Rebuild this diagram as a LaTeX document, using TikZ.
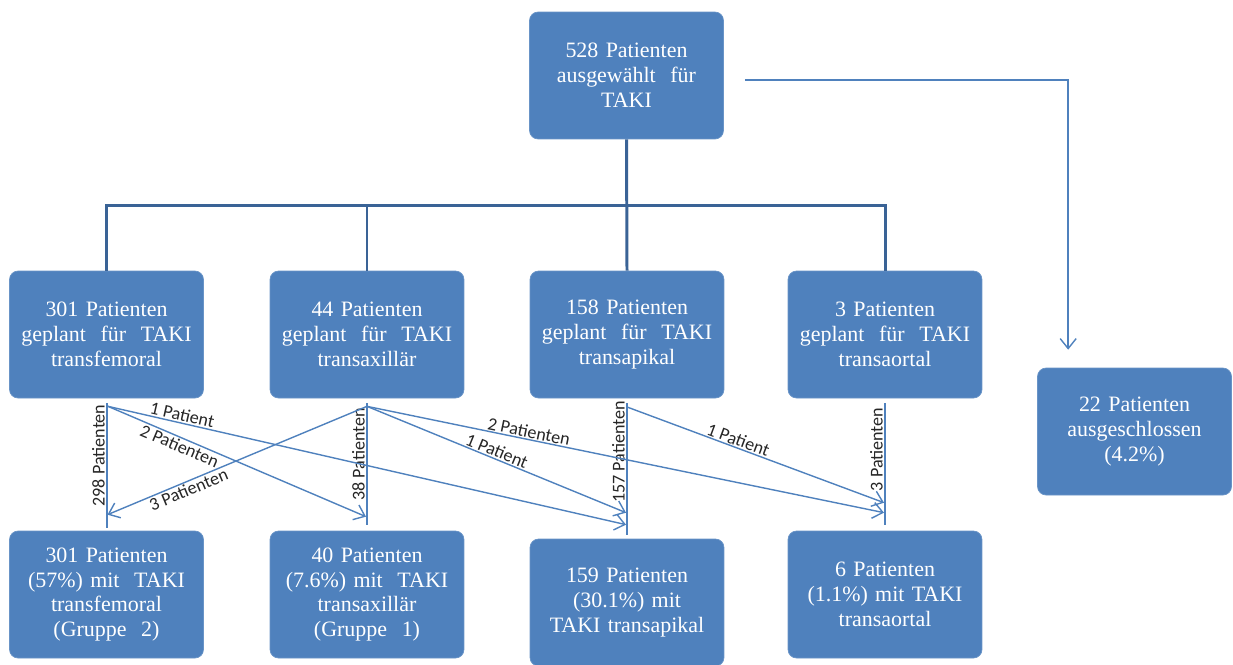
\documentclass[tikz,border=0pt]{standalone}
\usepackage{fontspec}
\setmainfont{Liberation Serif}
\newfontfamily\zahlfont{Carlito}
\usepackage{tikz}
\usetikzlibrary{
    positioning,
    arrows.meta,
    calc
}
\definecolor{kasten}{HTML}{4F81BD}
\definecolor{baum}{HTML}{3A6396}
\tikzset{
    >={Straight Barb[length=2mm,width=3.2mm]},
    patbox/.style={
        rectangle,
        rounded corners=0.17cm,
        fill=kasten,
        draw=kasten!85!white,
        text=white,
        minimum width=3.88cm,
        minimum height=2.54cm,
        text width=3.6cm,
        align=center,
        inner sep=2pt,
        font=\fontsize{12.5}{14.2}\selectfont
    },
    tree/.style={draw=baum, line width=1.7pt},
    stamm/.style={draw=kasten, line width=1.4pt},
    wechsel/.style={draw=kasten, line width=0.8pt, ->},
    zahl/.style={
        font=\zahlfont\fontsize{10.3}{11}\selectfont,
        text=black!85,
        inner sep=0.6pt
    }
}

\begin{document}
\begin{tikzpicture}[
    x=0.02cm,
    y=-0.02cm
]
    \useasboundingbox (0,0) rectangle (1233,664);

    % Kaesten
    \node[patbox] (taki) at (626.5,75.5) {528 Patienten\\ausgewählt~~für\\TAKI};

    \node[patbox] (tf)  at (106.5,334.5) {301 Patienten\\geplant~~für~~TAKI\\transfemoral};
    \node[patbox] (ta)  at (367,334.5)   {44 Patienten\\geplant~~für~~TAKI\\transaxillär};
    \node[patbox] (tp)  at (627,334.5)   {158 Patienten\\geplant~~für~~TAKI\\transapikal};
    \node[patbox] (tao) at (885,334.5)   {3 Patienten\\geplant~~für~~TAKI\\transaortal};

    \node[patbox] (aus) at (1134.5,431.5) {22 Patienten\\ausgeschlossen\\(4.2\%)};

    \node[patbox] (gtf)  at (106.5,594.5) {301 Patienten\\(57\%) mit~~TAKI\\transfemoral\\(Gruppe~~2)};
    \node[patbox] (gta)  at (367,594.5)   {40 Patienten\\(7.6\%) mit~~TAKI\\transaxillär\\(Gruppe~~1)};
    \node[patbox] (gtp)  at (627,602.5)   {159 Patienten\\(30.1\%) mit\\TAKI transapikal};
    \node[patbox] (gtao) at (885,594.5)   {6 Patienten\\(1.1\%) mit TAKI\\transaortal};

    % Aufteilung
    \coordinate (ast) at (627,205);
    \draw[tree] (taki.south) -- (tp.north);
    \draw[tree] (tf.north) -- (tf.north |- ast) -- (tao.north |- ast) -- (tao.north);
    \draw[tree] (ta.north) -- (ta.north |- ast);

    \draw[draw=kasten, line width=0.8pt, ->]
        ($(taki.east)+(21,4.5)$) -| ($(aus.north west)+(31,-18)$);

    % durchgefuehrt wie geplant
    \draw[stamm] ($(tf.south)+(0.5,5)$) -- node[zahl, rotate=90, anchor=south, pos=0.42] {298 Patienten} ($(gtf.north)+(0.5,-3)$);
    \draw[stamm] ($(ta.south)+(0,5)$) -- node[zahl, rotate=90, anchor=south, pos=0.42] {38 Patienten} ($(gta.north)+(0,-6)$);
    \draw[stamm] ($(tp.south)+(0,5)$) -- node[zahl, rotate=90, anchor=south, pos=0.37] {157 Patienten} ($(gtp.north)+(0,-4)$);
    \draw[stamm] ($(tao.south)+(0,5)$) -- node[zahl, rotate=90, anchor=south, pos=0.38] {3 Patienten} ($(gtao.north)+(0,-6)$);

    % Wechsel des Zugangs
    \draw[wechsel] ($(tf.south)+(1.5,8)$) -- node[zahl, sloped, above, pos=0.14] {1 Patient} ($(gtp.north)+(-1,-14)$);
    \draw[wechsel] ($(tf.south)+(1.5,8)$) -- node[zahl, sloped, below, pos=0.29] {2 Patienten} ($(gta.north)+(-1,-14)$);
    \draw[wechsel] ($(ta.south)+(0,8)$) -- node[zahl, sloped, below, pos=0.7] {3 Patienten} ($(gtf.north)+(1,-16)$);
    \draw[wechsel] ($(ta.south)+(0,8)$) -- node[zahl, sloped, above, pos=0.49] {1 Patient} ($(gtp.north)+(-1,-26)$);
    \draw[wechsel] ($(ta.south)+(0,8)$) -- node[zahl, sloped, above, pos=0.31] {2 Patienten} ($(gtao.north)+(-1,-18)$);
    \draw[wechsel] ($(tp.south)+(1,9)$) -- node[zahl, sloped, above, pos=0.42] {1 Patient} ($(gtao.north)+(-1,-28)$);

\end{tikzpicture}
\end{document}
